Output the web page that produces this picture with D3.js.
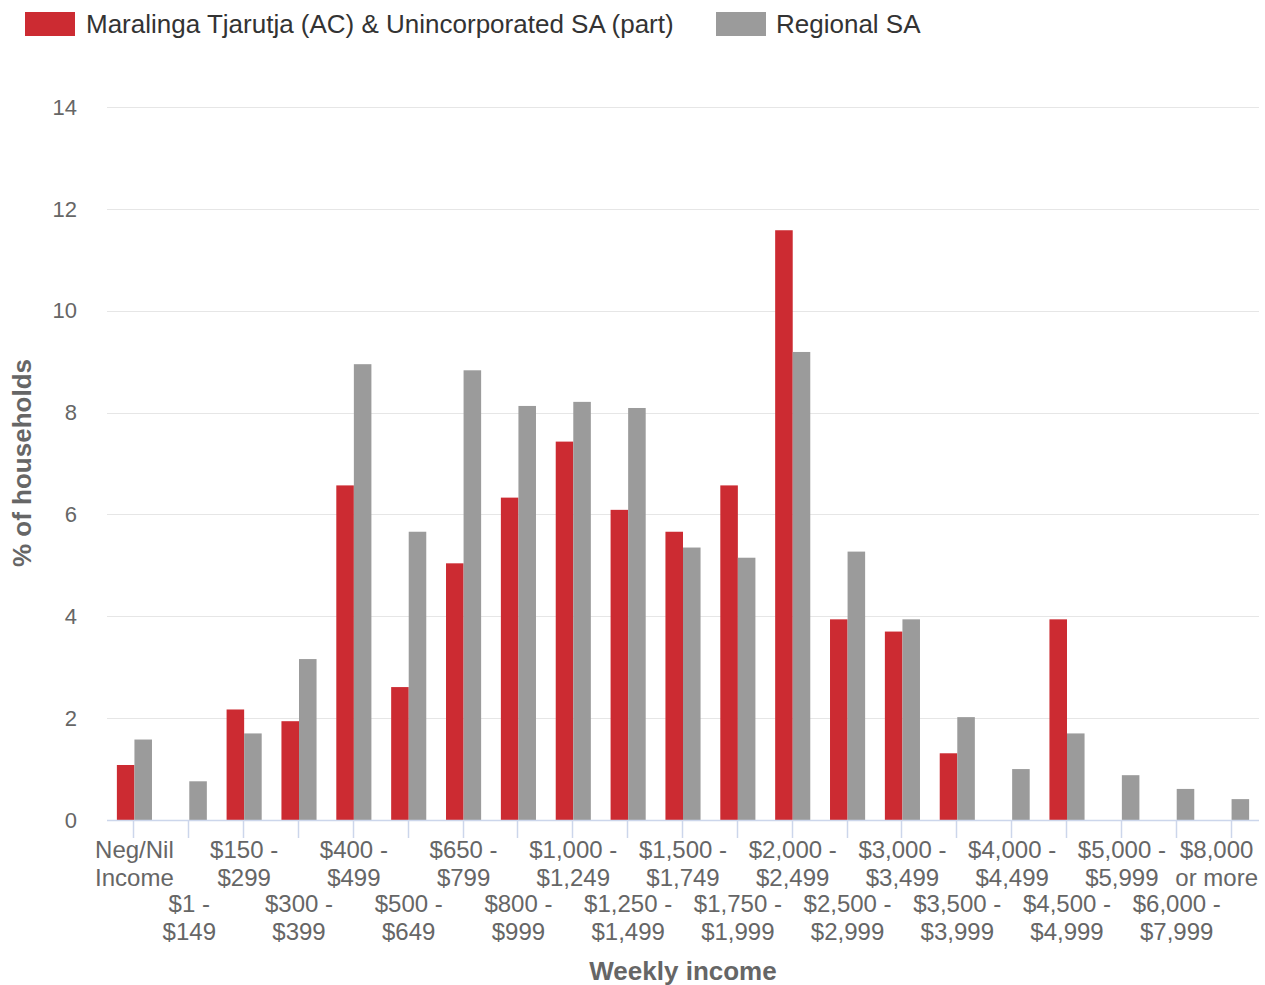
<!DOCTYPE html>
<html><head><meta charset="utf-8">
<script src="https://cdn.jsdelivr.net/npm/d3@7"></script>
<style>body{margin:0;background:#fff;} svg{display:block;font-family:"Liberation Sans",Arial,sans-serif;}</style>
</head><body>
<svg id="c" width="1265" height="985"></svg>
<script>
const categories = [
  ["Neg/Nil","Income"],["$1 -","$149"],["$150 -","$299"],["$300 -","$399"],["$400 -","$499"],
  ["$500 -","$649"],["$650 -","$799"],["$800 -","$999"],["$1,000 -","$1,249"],["$1,250 -","$1,499"],
  ["$1,500 -","$1,749"],["$1,750 -","$1,999"],["$2,000 -","$2,499"],["$2,500 -","$2,999"],["$3,000 -","$3,499"],
  ["$3,500 -","$3,999"],["$4,000 -","$4,499"],["$4,500 -","$4,999"],["$5,000 -","$5,999"],["$6,000 -","$7,999"],
  ["$8,000","or more"]
];
const seriesNames = ["Maralinga Tjarutja (AC) & Unincorporated SA (part)", "Regional SA"];
const maralinga = [1.08,0,2.17,1.94,6.57,2.61,5.04,6.33,7.43,6.09,5.66,6.57,11.58,3.94,3.70,1.31,0,3.94,0,0,0];
const regional  = [1.58,0.76,1.70,3.16,8.95,5.66,8.83,8.13,8.21,8.09,5.35,5.15,9.19,5.27,3.94,2.02,1.00,1.70,0.88,0.61,0.41];
const yTicks = [0,2,4,6,8,10,12,14];
const colors = ["#cc2b32","#9b9b9b"];

(function(){
const svg = d3.select("#c");
const pl = 107, pr = 1259, pt = 107, pb = 820;
const idx = categories.map((d,i)=>i);
const x0 = d3.scaleBand().domain(idx).range([pl,pr]).paddingInner(0.36).paddingOuter(0.18);
const x1 = d3.scaleBand().domain([0,1]).range([0,x0.bandwidth()]);
const y = d3.scaleLinear().domain([0,14]).range([pb,pt]);

svg.append("g").selectAll("line").data(yTicks).join("line")
  .attr("x1",pl).attr("x2",pr).attr("y1",d=>Math.round(y(d))+0.5).attr("y2",d=>Math.round(y(d))+0.5)
  .attr("stroke","#e6e6e6").attr("stroke-width",1);

svg.append("g").selectAll("text").data(yTicks).join("text")
  .attr("x",77).attr("y",d=>y(d)).attr("dy","0.35em").attr("text-anchor","end")
  .attr("font-size",22).attr("fill","#666").text(d=>d);

const data = [maralinga, regional];
const g = svg.append("g");
idx.forEach(i=>{
  data.forEach((s,k)=>{
    if (s[i] > 0) g.append("rect")
      .attr("x", x0(i)+x1(k)).attr("width", x1.bandwidth())
      .attr("y", y(s[i])).attr("height", y(0)-y(s[i]))
      .attr("fill", colors[k]);
  });
});

svg.append("line").attr("x1",pl).attr("x2",pr).attr("y1",pb+0.5).attr("y2",pb+0.5)
  .attr("stroke","#ccd6eb").attr("stroke-width",1.5);
const cx = i => x0(i)+x0.bandwidth()/2;
svg.append("g").selectAll("line").data(idx).join("line")
  .attr("x1",d=>Math.round(cx(d))-0.5).attr("x2",d=>Math.round(cx(d))-0.5)
  .attr("y1",pb).attr("y2",pb+18).attr("stroke","#ccd6eb").attr("stroke-width",1.5);

const xl = svg.append("g").selectAll("text").data(idx).join("text")
  .attr("text-anchor","middle").attr("font-size",24).attr("fill","#666")
  .attr("transform",d=>`translate(${cx(d)},${d%2===0?858:912})`);
xl.each(function(d){
  const t = d3.select(this);
  categories[d].forEach((ln,j)=>t.append("tspan").attr("x",0).attr("y",j*28).text(ln));
  const bb = this.getBBox();
  const rightEdge = cx(d) + bb.x + bb.width;
  if (rightEdge > 1258) {
    t.attr("transform", `translate(${cx(d) - (rightEdge - 1258)},${d%2===0?858:912})`);
  }
});

svg.append("text").attr("x",683).attr("y",980).attr("text-anchor","middle")
  .attr("font-size",26).attr("font-weight","bold").attr("fill","#666").text("Weekly income");
svg.append("text").attr("transform","translate(31,463) rotate(-90)").attr("text-anchor","middle")
  .attr("font-size",26).attr("font-weight","bold").attr("fill","#666").text("% of households");

const leg = [{x:25,tx:86},{x:716,tx:776}];
seriesNames.forEach((n,k)=>{
  svg.append("rect").attr("x",leg[k].x).attr("y",12).attr("width",50).attr("height",24).attr("fill",colors[k]);
  svg.append("text").attr("x",leg[k].tx).attr("y",24).attr("dy","0.35em").attr("font-size",26).attr("fill","#333").text(n);
});
})();
</script>
</body></html>
